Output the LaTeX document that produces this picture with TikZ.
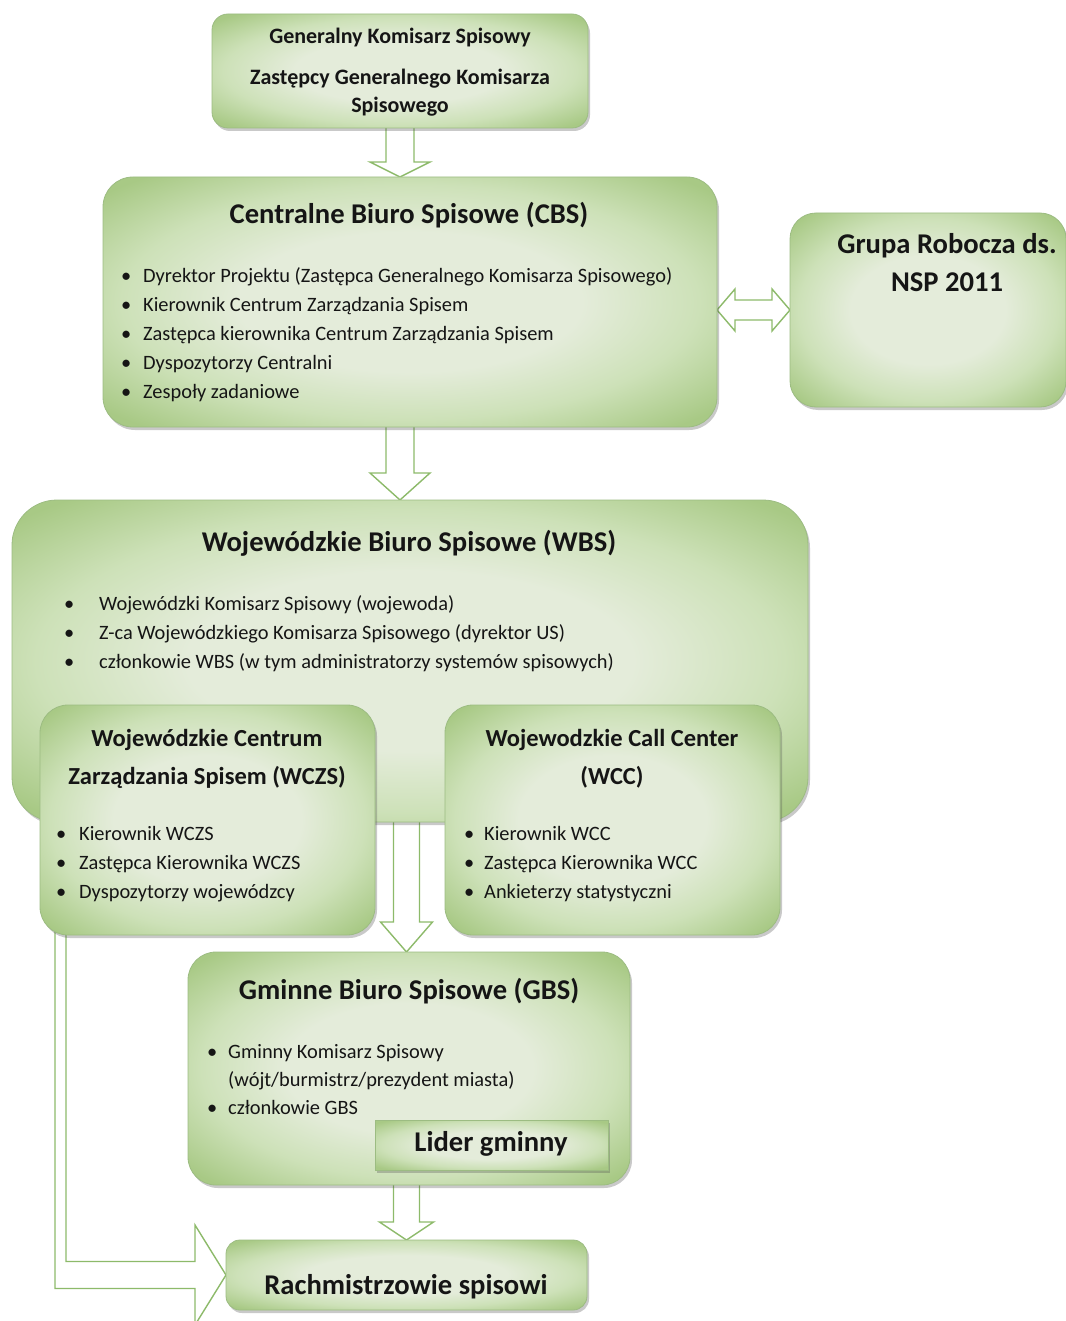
\documentclass[tikz,border=0pt]{standalone}
\usepackage{fontspec}
\setmainfont{Carlito}
\usetikzlibrary{shadows,calc}
\definecolor{boxlight}{HTML}{E4ECDA}
\definecolor{boxmid}{HTML}{CDE1B8}
\definecolor{boxdark}{HTML}{A8C985}
\definecolor{boxline}{HTML}{9CBC82}
\definecolor{arrowline}{HTML}{8DBA6A}
\definecolor{txt}{HTML}{151515}
\pgfdeclareradialshading{boxshade}{\pgfpoint{0bp}{0bp}}{color(0bp)=(boxlight); color(14bp)=(boxlight); color(23.5bp)=(boxmid); color(33bp)=(boxdark); color(50bp)=(boxdark)}
\pgfdeclarelayer{bg}
\pgfsetlayers{bg,main}
\tikzset{
  gbox/.style={draw=boxline, line width=0.8pt, rounded corners=#1, shading=boxshade,
    drop shadow={shadow xshift=2pt, shadow yshift=-3pt, opacity=0.3, fill=black!70},
    inner sep=0pt, outer sep=0pt},
  barrow/.style={draw=arrowline, fill=white, line width=1.4pt, line join=miter},
  gkstxt/.style={font=\bfseries\fontsize{22}{26}\selectfont, text=txt, anchor=base, inner sep=0pt},
  ttl/.style={font=\bfseries\fontsize{28.6}{32}\selectfont, text=txt, anchor=base, inner sep=0pt},
  subttl/.style={font=\bfseries\fontsize{24.5}{28}\selectfont, text=txt, anchor=base, inner sep=0pt},
  lst/.style={font=\fontsize{20.4}{24}\selectfont, text=txt, anchor=base west, inner sep=0pt},
}
\newcommand\blockdown[5]{%
  \draw[barrow] let \p1=#1, \p2=#2 in
    (\x1-#3pt,\y1) -- (\x1-#3pt,\y2+#5pt) -- (\x1-#4pt,\y2+#5pt) -- (\x1,\y2)
    -- (\x1+#4pt,\y2+#5pt) -- (\x1+#3pt,\y2+#5pt) -- (\x1+#3pt,\y1);}
\begin{document}
\begin{tikzpicture}[x=1pt,y=-1pt]
\useasboundingbox (0,0) rectangle (1065,1321);
% boxes
\node[gbox=16pt, minimum width=376pt, minimum height=114pt] (gks) at (400,71) {};
\node[gbox=30pt, minimum width=614pt, minimum height=250pt] (cbs) at (410,302) {};
\node[gbox=26pt, minimum width=276pt, minimum height=194pt] (grupa) at (928,310) {};
\node[gbox=45pt, minimum width=796pt, minimum height=322pt] (wbs) at (410,661) {};
\node[gbox=28pt, minimum width=335pt, minimum height=230pt] (wczs) at (207.5,820) {};
\node[gbox=28pt, minimum width=335pt, minimum height=230pt] (wcc) at (612.5,820) {};
\node[gbox=28pt, minimum width=442pt, minimum height=233pt] (gbs) at (409,1068.5) {};
\node[gbox=0pt, minimum width=233pt, minimum height=50pt] (lider) at (491.5,1145) {};
\node[gbox=14pt, minimum width=361pt, minimum height=70pt] (rach) at (406.5,1275) {};
% arrows
\begin{pgfonlayer}{bg}
\blockdown{(gks.south)}{(gks.south |- cbs.north)}{14}{30}{15}
\blockdown{(gks.south |- cbs.south)}{(gks.south |- wbs.north)}{14}{30}{27}
\blockdown{(rach.north |- wbs.south)}{(rach.north |- gbs.north)}{13}{26}{30}
\blockdown{(rach.north |- gbs.south)}{(rach.north)}{13}{27}{18}
\draw[barrow] let \p1=(cbs.east |- grupa.west), \p2=(grupa.west) in
  (\p1) -- (\x1+18pt,\y1+21pt) -- (\x1+18pt,\y1+10pt) -- (\x2-18pt,\y1+10pt)
  -- (\x2-18pt,\y1+21pt) -- (\p2) -- (\x2-18pt,\y1-21pt) -- (\x2-18pt,\y1-10pt)
  -- (\x1+18pt,\y1-10pt) -- (\x1+18pt,\y1-21pt) -- cycle;
\draw[barrow] let \p1=(wczs.south west), \p2=(rach.west) in
  (\x1+15pt,\y1+6pt) -- (\x1+15pt,\y2-13.5pt) -- (\x2-31pt,\y2-13.5pt) -- (\x2-31pt,\y2-50pt)
  -- (\p2) -- (\x2-31pt,\y2+50pt) -- (\x2-31pt,\y2+13.5pt) -- (\x1+26pt,\y2+13.5pt)
  -- (\x1+26pt,\y1+6pt);
\end{pgfonlayer}
% texts
\node[gkstxt] (gks-t1) at (400,44) {Generalny Komisarz Spisowy};
\node[gkstxt] (gks-t2) at (400,85) {Zastępcy Generalnego Komisarza};
\node[gkstxt] (gks-t3) at (400,113) {Spisowego};
\node[ttl] (cbs-t) at (409,224) {Centralne Biuro Spisowe (CBS)};
\foreach \t [count=\i] in {Dyrektor Projektu (Zastępca Generalnego Komisarza Spisowego),
  Kierownik Centrum Zarządzania Spisem, Zastępca kierownika Centrum Zarządzania Spisem,
  Dyspozytorzy Centralni, Zespoły zadaniowe}
  \node[lst] (cbs-\i) at (121,{283+28.75*(\i-1)}) {\makebox[22pt][l]{\textbullet}\t};
\node[ttl] (grupa-t1) at (947,254) {Grupa Robocza ds.};
\node[ttl] (grupa-t2) at (947,292) {NSP 2011};
\node[ttl] (wbs-t) at (409,551) {Wojewódzkie Biuro Spisowe (WBS)};
\foreach \t [count=\i] in {Wojewódzki Komisarz Spisowy (wojewoda),
  Z-ca Wojewódzkiego Komisarza Spisowego (dyrektor US),
  członkowie WBS (w tym administratorzy systemów spisowych)}
  \node[lst] (wbs-\i) at (64,{610+29*(\i-1)}) {\makebox[35pt][l]{\textbullet}\t};
\node[subttl] (wczs-t1) at (207,746) {Wojewódzkie Centrum};
\node[subttl] (wczs-t2) at (207,784) {Zarządzania Spisem (WCZS)};
\foreach \t [count=\i] in {Kierownik WCZS, Zastępca Kierownika WCZS, Dyspozytorzy wojewódzcy}
  \node[lst] (wczs-\i) at (56,{840+29*(\i-1)}) {\makebox[23pt][l]{\textbullet}\t};
\node[subttl] (wcc-t1) at (612,746) {Wojewodzkie Call Center};
\node[subttl] (wcc-t2) at (612,784) {(WCC)};
\foreach \t [count=\i] in {Kierownik WCC, Zastępca Kierownika WCC, Ankieterzy statystyczni}
  \node[lst] (wcc-\i) at (464,{840+29*(\i-1)}) {\makebox[20pt][l]{\textbullet}\t};
\node[ttl] (gbs-t) at (409,999) {Gminne Biuro Spisowe (GBS)};
\node[lst] (gbs-1) at (207,1058) {\makebox[21pt][l]{\textbullet}Gminny Komisarz Spisowy};
\node[lst] (gbs-2) at (228,1086) {(wójt/burmistrz/prezydent miasta)};
\node[lst] (gbs-3) at (207,1114) {\makebox[21pt][l]{\textbullet}członkowie GBS};
\node[ttl] (lider-t) at (491,1151) {Lider gminny};
\node[ttl] (rach-t) at (406,1294) {Rachmistrzowie spisowi};
\end{tikzpicture}
\end{document}
